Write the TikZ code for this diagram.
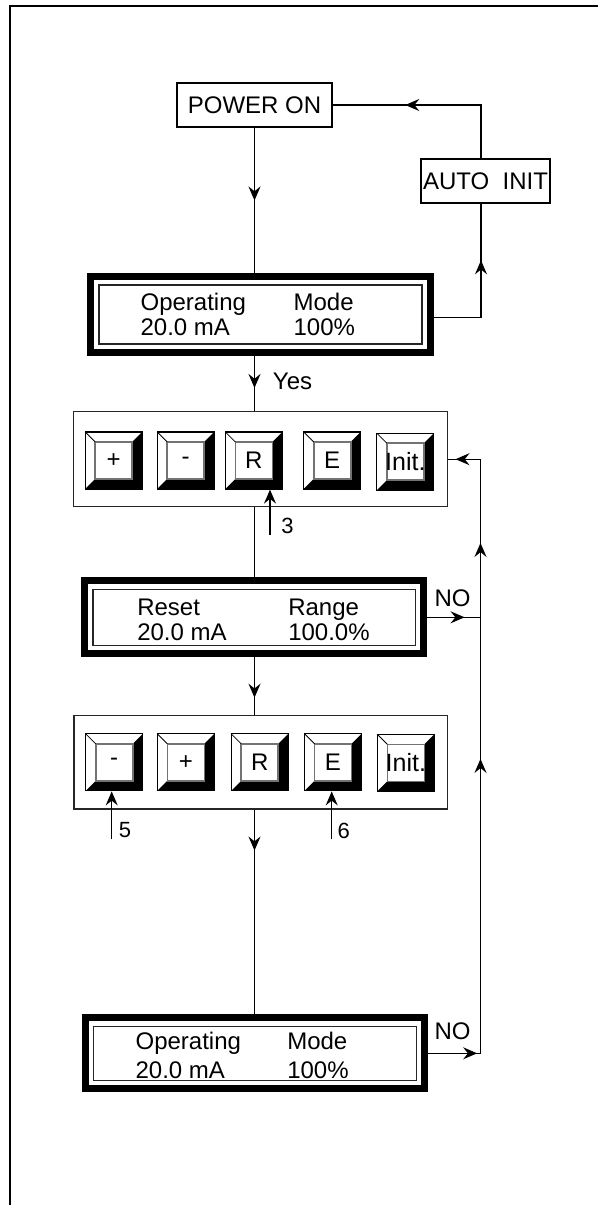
\documentclass[tikz,border=0pt]{standalone}
\usepackage{fontspec}
\setmainfont{Liberation Sans}
\usetikzlibrary{arrows.meta, positioning, decorations.markings, calc}

\begin{document}
\begin{tikzpicture}[x=0.5pt, y=-0.5pt, line width=0.6pt,
    font=\fontsize{12}{12.5}\selectfont,
    >={Stealth[length=7pt, width=6pt, inset=2.4pt]},
    tipat/.style={postaction={decorate, decoration={markings,
        mark=at position #1 with {\arrow{>}}}}},
    box/.style={draw, line width=1pt, inner sep=0pt},
    lcd/.style={draw, line width=3.5pt, inner sep=0pt,
      path picture={\draw[black!85, line width=0.6pt]
        ([shift={(4.25pt,-4.25pt)}]path picture bounding box.north west) rectangle
        ([shift={(-4.25pt,4.25pt)}]path picture bounding box.south east);}},
    lcdtext/.style={anchor=base west, inner sep=0pt},
    pad/.style={draw, black!85, inner sep=0pt},
    key/.style={draw, line width=0.6pt, minimum size=28.5pt, inner sep=0pt,
      font=\fontsize{12}{13}\selectfont,
      path picture={
        \path (path picture bounding box.south west) coordinate (sw)
              (path picture bounding box.north east) coordinate (ne)
              (path picture bounding box.north west) coordinate (nw)
              (path picture bounding box.south east) coordinate (se);
        \fill[black] (ne) -- (se) -- (sw) -- ([shift={(5pt,5pt)}]sw)
          -- ([shift={(-5pt,5pt)}]se) -- ([shift={(-5pt,-5pt)}]ne) -- cycle;
        \draw[black!55, line width=0.8pt] ([shift={(5pt,5pt)}]sw) rectangle ([shift={(-5pt,-5pt)}]ne);
        \draw[line width=0.4pt] (nw) -- ([shift={(5pt,-5pt)}]nw);
      }},
    initkey/.style={key, font=\fontsize{12.5}{13}\selectfont},
    lbl/.style={inner sep=0pt}]
  \useasboundingbox (0,0) rectangle (598,1205);
  \draw[line width=0.8pt] (10,1205) -- (10,6) -- (598,6);

  % start and auto init
  \node[box, minimum width=77.5pt, minimum height=22pt] (pon) at (254.5,105) {POWER ON};
  \node[box, minimum width=64.5pt, minimum height=22.3pt] (ai) at (485.5,181) {AUTO\ \ INIT};

  % displays
  \node[lcd, minimum width=170pt, minimum height=38pt] (d1) at (260.5,314.5) {};
  \node[lcdtext] (d1t) at ([shift={(-60.25pt,2.25pt)}]d1.center)
    {\begin{tabular}[t]{@{}p{76.5pt}@{}l@{}}Operating & Mode\\ 20.0 mA & 100\%\end{tabular}};
  \node[lcd, minimum width=169.7pt, minimum height=36.5pt] (d2) at (254.2,617.3) {};
  \node[lcdtext] (d2t) at ([shift={(-58.75pt,1.15pt)}]d2.center)
    {\begin{tabular}[t]{@{}p{75.5pt}@{}l@{}}Reset & Range\\ 20.0 mA & 100.0\%\end{tabular}};
  \node[lcd, minimum width=169.8pt, minimum height=35.5pt] (d3) at (255,1053.3) {};
  \node[lcdtext] (d3t) at ([shift={(-60pt,2pt)}]d3.center)
    {\begin{tabular}[t]{@{}p{75.85pt}@{}l@{}}Operating & Mode\\[2pt] 20.0 mA & 100\%\end{tabular}};

  % keypads
  \node[pad, minimum width=187pt, minimum height=47.5pt] (kp1) at (260.3,459.2) {};
  \foreach \nm/\x/\txt in {k1a/113.7/+, k1b/185.7/-, k1c/253.9/R, k1d/332.2/E}
    \node[key] (\nm) at (\x,460.5) {\txt};
  \node[initkey] (k1e) at (405.3,461.7) {Init.};
  \node[pad, minimum width=186.7pt, minimum height=46.7pt] (kp2) at (260.7,762.3) {};
  \foreach \nm/\x/\txt in {k2a/114.2/-, k2b/185.8/+, k2c/259.7/R, k2d/333/E}
    \node[key] (\nm) at (\x,762.3) {\txt};
  \node[initkey] (k2e) at (405.8,762.8) {Init.};

  % main flow
  \coordinate (spine) at (254.5,0);
  \coordinate (rail) at (480.5,0);
  \draw[tipat=0.5] (pon.south) -- (pon.south |- d1.north);
  \draw[tipat=0.58] (spine |- d1.south) -- (spine |- kp1.north);
  \draw (spine |- kp1.south) -- (spine |- d2.north);
  \draw[tipat=0.7] (spine |- d2.south) -- (spine |- kp2.north);
  \draw[tipat=0.2] (spine |- kp2.south) -- (spine |- d3.north);

  % return paths
  \draw[tipat=0.65] ([yshift=-1.4pt]d1.east) -| ([xshift=-2.25pt]ai.south);
  \draw[tipat=0.64] ([xshift=-2.25pt]ai.north) |- (pon.east);
  \draw[tipat=0.7] (d2.east) -- (d2.east -| rail);
  \draw[tipat=0.1, tipat=0.71] (d3.east) -| (d2.east -| rail);
  \draw[tipat=0.39, tipat=0.96] (d2.east -| rail) |- (kp1.east);

  % key presses
  \coordinate (c3) at (270,535);
  \coordinate (c5) at (111.7,839.3);
  \coordinate (c6) at (331.7,839.3);
  \draw[->] (c3) -- (c3 |- k1c.south);
  \draw[->] (c5) -- (c5 |- k2a.south);
  \draw[->] (c6) -- (c6 |- k2d.south);

  \node[lbl] (yes) at (292.5,381) {Yes};
  \node[lbl] (no1) at (452.5,598) {NO};
  \node[lbl] (no2) at (452.5,1031.7) {NO};
  \node[lbl, font=\fontsize{11}{12}\selectfont] (n3) at (287.5,525.5) {3};
  \node[lbl, font=\fontsize{11}{12}\selectfont] (n5) at (125,830.5) {5};
  \node[lbl, font=\fontsize{11}{12}\selectfont] (n6) at (343.8,830.5) {6};
\end{tikzpicture}
\end{document}
